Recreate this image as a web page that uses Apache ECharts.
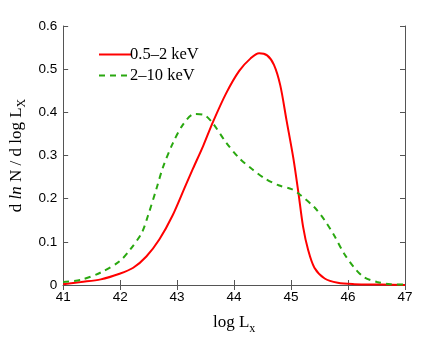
<!DOCTYPE html>
<html><head>
<meta charset="UTF-8">
<title>dlnN/dlogLx</title>
<script type="text/javascript" src="https://cdn.jsdelivr.net/npm/echarts@6/dist/echarts.min.js"></script>
</head>
<body style="margin:0;background:#fff;">
<div id="main" style="width:447px;height:340px;"></div>
<script type="text/javascript">
// soft band 0.5-2 keV
var softX = [41, 41.31, 41.66, 41.99, 42.23, 42.46, 42.69, 42.92, 43.15, 43.28, 43.46, 43.63, 43.86, 44.09, 44.29, 44.44, 44.58, 44.70, 44.81, 44.92, 45.04, 45.13, 45.21, 45.30, 45.41, 45.59, 45.82, 46.11, 46.57, 47];
var softY = [0.002, 0.007, 0.013, 0.026, 0.040, 0.066, 0.106, 0.161, 0.231, 0.270, 0.323, 0.378, 0.444, 0.496, 0.525, 0.537, 0.532, 0.510, 0.463, 0.382, 0.294, 0.213, 0.136, 0.081, 0.040, 0.015, 0.005, 0.002, 0.001, 0];
// hard band 2-10 keV
var hardX = [41, 41.31, 41.66, 41.99, 42.17, 42.38, 42.49, 42.64, 42.75, 42.92, 43.10, 43.30, 43.47, 43.63, 43.86, 44.09, 44.32, 44.55, 44.78, 45.01, 45.13, 45.41, 45.59, 45.76, 45.93, 46.11, 46.28, 46.51, 46.74, 47];
var hardY = [0.007, 0.012, 0.029, 0.055, 0.081, 0.121, 0.161, 0.224, 0.272, 0.327, 0.371, 0.396, 0.394, 0.374, 0.330, 0.294, 0.268, 0.246, 0.231, 0.222, 0.212, 0.180, 0.150, 0.114, 0.073, 0.040, 0.018, 0.007, 0.002, 0.001];
var names = ['0.5\u20132 keV', '2\u201310 keV'];

function pairs(xs, ys){
	var out = [];
	for(var i=0;i<xs.length;i++){out.push([xs[i], ys[i]]);}
	return out;
}
var boxColor = '#555';
var tickFont = {color:'#000', fontFamily:'Liberation Sans', fontSize:13.5};
var serif = 'Liberation Serif';

var option = {
	animation: false,
	grid: {left:58, right:42, top:26, bottom:42},
	legend: {
		orient:'vertical', left:93, top:41, itemGap:4,
		itemWidth:32, itemHeight:14,
		data: names,
		itemStyle:{opacity:0},
		textStyle:{fontFamily:serif, fontSize:16.5, color:'#000', padding:[0,0,0,-6]}
	},
	xAxis: [{
		type:'value', min:41, max:47, interval:1,
		axisLine:{lineStyle:{color:boxColor}},
		axisTick:{inside:true, length:5, lineStyle:{color:boxColor}},
		axisLabel:Object.assign({margin:5}, tickFont),
		splitLine:{show:false},
		name:'{a|log L}{s|x}', nameLocation:'middle', nameGap:26,
		nameTextStyle:{rich:{
			a:{fontFamily:serif, fontSize:17, color:'#000'},
			s:{fontFamily:serif, fontSize:12, color:'#000', padding:[12,0,0,0]}
		}}
	},{
		type:'value', position:'top', min:41, max:47, interval:1,
		axisLine:{show:true, lineStyle:{color:boxColor}},
		axisTick:{inside:true, length:5, lineStyle:{color:boxColor}},
		axisLabel:{show:false}, splitLine:{show:false}
	}],
	yAxis: [{
		type:'value', min:0, max:0.6, interval:0.1,
		axisLine:{show:true, lineStyle:{color:boxColor}},
		axisTick:{show:true, inside:true, length:5, lineStyle:{color:boxColor}},
		axisLabel:Object.assign({margin:6, formatter:function(v){return v===0?'0':v.toFixed(1);}}, tickFont),
		splitLine:{show:false},
		name:'{a|d }{i|ln}{a| N / d log L}{s|X}', nameLocation:'middle', nameGap:30,
		nameTextStyle:{rich:{
			a:{fontFamily:serif, fontSize:17, color:'#000'},
			i:{fontFamily:serif, fontStyle:'italic', fontSize:17, color:'#000'},
			s:{fontFamily:serif, fontSize:12, color:'#000', padding:[10,0,0,0]}
		}}
	},{
		type:'value', position:'right', min:0, max:0.6, interval:0.1,
		axisLine:{show:true, lineStyle:{color:boxColor}},
		axisTick:{show:true, inside:true, length:5, lineStyle:{color:boxColor}},
		axisLabel:{show:false}, splitLine:{show:false}
	}],
	series: [{
		name:names[0], type:'line', smooth:0.3, showSymbol:false, symbol:'none',
		data:pairs(softX, softY),
		lineStyle:{color:'#ff0000', width:2},
		itemStyle:{color:'#ff0000'}
	},{
		name:names[1], type:'line', smooth:0.3, showSymbol:false, symbol:'none',
		data:pairs(hardX, hardY),
		lineStyle:{color:'#2aa810', width:2, type:[6,5]},
		itemStyle:{color:'#2aa810'}
	}]
};
var chart = echarts.init(document.getElementById('main'));
chart.setOption(option, true);
</script>
</body>
</html>
